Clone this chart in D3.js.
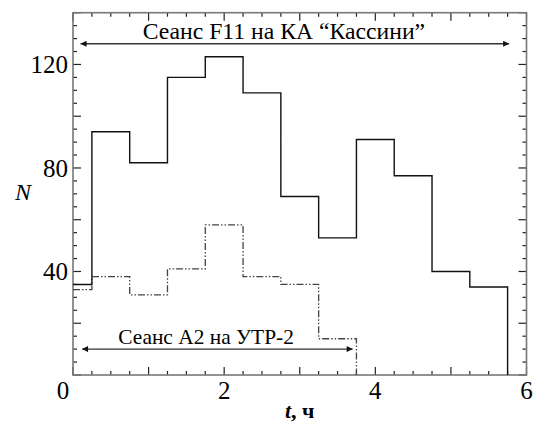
<!DOCTYPE html>
<html><head><meta charset="utf-8">
<script src="https://cdn.jsdelivr.net/npm/d3@7"></script>
<style>body{margin:0;background:#fff}svg{display:block}svg text{font-family:'Liberation Serif',serif}</style>
</head><body><div id="chart"></div>
<script>
// Data
const solidEdges = [0,0.25,0.75,1.25,1.75,2.25,2.75,3.25,3.75,4.25,4.75,5.25,5.75];
const solidValues = [35,94,82,115,123,109,69,53,91,77,40,34];
const dashEdges = [0,0.25,0.75,1.25,1.75,2.25,2.75,3.25,3.75];
const dashValues = [33,38,31,41,58,38,35,14];
const xTickLabels = [0,2,4,6];
const yTickLabels = [40,80,120];
const annotations = [
  {text:"Сеанс F11 на КА “Кассини”", from:0.1, to:5.77, level:128, textAt:2.79, size:23.7},
  {text:"Сеанс А2 на УТР-2", from:0.12, to:3.7, level:10, textAt:1.76, size:21.4}
];

const W=536,H=423;
const m={left:73,top:12.7,right:9.5,bottom:48};
const svg=d3.select("#chart").append("svg").attr("width",W).attr("height",H);
const x=d3.scaleLinear().domain([0,6]).range([m.left,W-m.right]);
const y=d3.scaleLinear().domain([0,140]).range([H-m.bottom,m.top]);

// defs arrow
const defs=svg.append("defs");
defs.append("marker").attr("id","ah").attr("viewBox","0 0 10 10").attr("refX",10).attr("refY",5)
  .attr("markerWidth",8).attr("markerHeight",6).attr("markerUnits","userSpaceOnUse").attr("orient","auto-start-reverse")
  .append("path").attr("d","M0,0L10,5L0,10Z").attr("fill","#111");

// ticks
const minorX=d3.range(0,6.001,0.25), minorY=d3.range(0,140.001,5);
const tg=svg.append("g").attr("stroke","#222").attr("stroke-width",1.2);
minorX.forEach(v=>{
  const L = Math.abs(v-Math.round(v))<1e-6 ? 8 : 4;
  tg.append("line").attr("x1",x(v)).attr("x2",x(v)).attr("y1",y(0)).attr("y2",y(0)-L);
  tg.append("line").attr("x1",x(v)).attr("x2",x(v)).attr("y1",y(140)).attr("y2",y(140)+L);
});
minorY.forEach(v=>{
  const L = v%20===0 ? 8 : 4;
  tg.append("line").attr("y1",y(v)).attr("y2",y(v)).attr("x1",x(0)).attr("x2",x(0)+L);
  tg.append("line").attr("y1",y(v)).attr("y2",y(v)).attr("x1",x(6)).attr("x2",x(6)-L);
});

// frame
svg.append("rect").attr("x",x(0)).attr("y",y(140)).attr("width",x(6)-x(0)).attr("height",y(0)-y(140))
  .attr("fill","none").attr("stroke","#777").attr("stroke-width",1.6);

// histograms
const line=d3.line().x(d=>x(d[0])).y(d=>y(d[1])).curve(d3.curveStepAfter);
const pts=(edges,vals)=>edges.map((e,i)=>[e, i<vals.length?vals[i]:0]);
svg.append("path").attr("d",line(pts(dashEdges,dashValues))).attr("fill","none")
  .attr("stroke","#444").attr("stroke-width",1.3).attr("stroke-dasharray","7,2,1.5,2,1.5,2");
svg.append("path").attr("d",line(pts(solidEdges,solidValues))).attr("fill","none")
  .attr("stroke","#111").attr("stroke-width",1.4);

// annotations
annotations.forEach(a=>{
  svg.append("line").attr("x1",x(a.from)).attr("x2",x(a.to)).attr("y1",y(a.level)).attr("y2",y(a.level))
    .attr("stroke","#333").attr("stroke-width",1.3)
    .attr("marker-start","url(#ah)").attr("marker-end","url(#ah)");
  svg.append("text").attr("x",x(a.textAt)).attr("y",y(a.level)-5).attr("text-anchor","middle")
    .attr("font-size",a.size).text(a.text);
});

// tick labels
xTickLabels.forEach((v,i)=>{
  svg.append("text").attr("x",x(v)+(i===0?-10:0)).attr("y",y(0)+24).attr("text-anchor","middle")
    .attr("font-size",25).text(v);
});
yTickLabels.forEach(v=>{
  svg.append("text").attr("x",x(0)-5).attr("y",y(v)).attr("dy","0.35em").attr("text-anchor","end")
    .attr("font-size",25).text(v);
});

// axis titles
const xt=svg.append("text").attr("x",x(3)).attr("y",H-5).attr("text-anchor","middle")
  .attr("font-size",22).attr("font-weight","bold");
xt.append("tspan").attr("font-style","italic").text("t");
xt.append("tspan").text(", ч");
svg.append("text").attr("x",23).attr("y",y(71)).attr("dy","0.35em").attr("text-anchor","middle")
  .attr("font-size",24).attr("font-style","italic").text("N");
</script></body></html>
